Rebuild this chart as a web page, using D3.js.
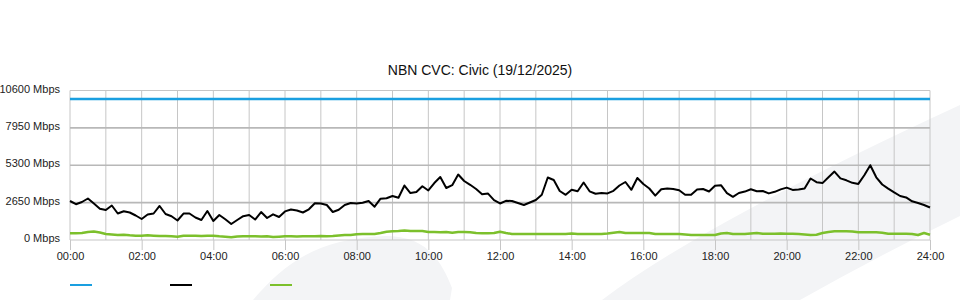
<!DOCTYPE html>
<html>
<head>
<meta charset="utf-8">
<script src="https://cdn.jsdelivr.net/npm/d3@7"></script>
<style>
  body { margin: 0; background: #fff; }
  svg { display: block; font-family: "Liberation Sans", Arial, sans-serif; }
</style>
</head>
<body>
<div class="canvas"></div>
<script>
const chartTitle = "NBN CVC: Civic (19/12/2025)";

// samples every 10 minutes from 00:00 to 24:00
const stepMinutes = 10;

const xTickLabels = ["00:00", "02:00", "04:00", "06:00", "08:00", "10:00", "12:00",
                     "14:00", "16:00", "18:00", "20:00", "22:00", "24:00"];
const yTickValues = [0, 2650, 5300, 7950, 10600];

// provisioned capacity (blue)
const capacityTimes = [0, 1440];
const capacityValues = [10000, 10000];

// traffic in Mbps (black)
const trafficValues = [
  2765, 2538, 2694, 2942, 2588, 2219, 2127, 2446, 1879, 2042,
  1950, 1737, 1489, 1808, 1879, 2411, 1843, 1687, 1383, 1872,
  1879, 1595, 1418, 2056, 1347, 1773, 1468, 1134, 1418, 1687,
  1773, 1453, 1985, 1560, 1822, 1631, 2028, 2162, 2092, 1950,
  2177, 2609, 2581, 2482, 1985, 2148, 2482, 2623, 2588, 2637,
  2765, 2361, 2928, 2964, 3120, 2992, 3864, 3332, 3403, 3814,
  3510, 4041, 4467, 3687, 3885, 4644, 4183, 3914, 3616, 3247,
  3290, 2822, 2588, 2779, 2765, 2623, 2482, 2659, 2836, 3205,
  4431, 4254, 3474, 3205, 3566, 3453, 4077, 3453, 3276, 3325,
  3304, 3488, 3864, 4112, 3559, 4396, 3970, 3651, 3148, 3602,
  3658, 3616, 3524, 3205, 3205, 3573, 3616, 3439, 3843, 3885,
  3318, 3063, 3332, 3432, 3595, 3460, 3474, 3304, 3417, 3588,
  3715, 3552, 3580, 3658, 4360, 4098, 4034, 4452, 4850, 4367,
  4233, 4055, 3977, 4594, 5303, 4445, 3935, 3644, 3375, 3120,
  3020, 2744, 2623, 2482, 2304
];

// second traffic series in Mbps (green)
const lowerValues = [
  475, 475, 496, 567, 603, 532, 425, 390, 355, 376,
  333, 305, 305, 333, 305, 284, 284, 262, 234, 305,
  305, 305, 284, 305, 305, 262, 234, 191, 248, 262,
  262, 262, 248, 262, 213, 234, 262, 262, 248, 262,
  262, 262, 284, 262, 284, 319, 355, 355, 404, 425,
  425, 425, 496, 588, 617, 638, 674, 638, 638, 638,
  567, 567, 546, 567, 518, 567, 567, 546, 496, 475,
  475, 496, 588, 496, 425, 425, 425, 425, 425, 425,
  425, 425, 425, 425, 461, 425, 425, 425, 425, 425,
  461, 518, 567, 496, 496, 496, 496, 496, 425, 425,
  425, 425, 425, 390, 355, 355, 355, 355, 355, 461,
  496, 425, 425, 425, 461, 496, 447, 447, 447, 461,
  447, 447, 425, 390, 355, 376, 496, 567, 617, 617,
  617, 603, 546, 546, 546, 546, 518, 447, 447, 447,
  447, 425, 355, 496, 376
];

const legendColors = ["#1a9fe0", "#000000", "#7cc02c"];

const width = 960;
const height = 300;
const margin = { top: 90.5, right: 30, bottom: 60, left: 70 };

const svg = d3.select(".canvas")
  .append("svg")
  .attr("width", width)
  .attr("height", height);

// faint background swooshes
const bg = svg.append("g").attr("fill", "#f3f4f6");
bg.append("path")
  .attr("d", "M253,300 C285,262 320,238 385,236 C420,236 438,252 452,288 L450,300 Z");
bg.append("path")
  .attr("d", "M602,300 Q700,225 960,105 L960,216 Q880,255 800,300 Z");

const x = d3.scaleLinear().domain([0, 1440]).range([margin.left, width - margin.right]);
const y = d3.scaleLinear().domain([0, 10600]).range([height - margin.bottom, margin.top]);

const grid = svg.append("g").attr("class", "grid");

// vertical grid every hour
grid.selectAll("line.v")
  .data(d3.range(0, 1441, 60))
  .enter().append("line")
    .attr("class", "v")
    .attr("x1", d => x(d)).attr("x2", d => x(d))
    .attr("y1", y(10600)).attr("y2", y(0))
    .attr("stroke", "#c6c6c6")
    .attr("stroke-width", 1);

// horizontal grid
grid.selectAll("line.h")
  .data(yTickValues)
  .enter().append("line")
    .attr("class", "h")
    .attr("x1", x(0)).attr("x2", x(1440))
    .attr("y1", d => y(d)).attr("y2", d => y(d))
    .attr("stroke", d => (d === 0 || d === 10600) ? "#c6c6c6" : "#b8b8b8")
    .attr("stroke-width", d => (d === 0 || d === 10600) ? 1 : 1.6);

// axes
const xAxis = d3.axisBottom(x)
  .tickValues(xTickLabels.map((d, i) => i * 120))
  .tickFormat((d, i) => xTickLabels[i])
  .tickSize(10)
  .tickSizeOuter(0);

const xAxisGroup = svg.append("g")
  .attr("transform", `translate(0,${y(0)})`)
  .call(xAxis);
xAxisGroup.select(".domain").remove();
xAxisGroup.selectAll("line").attr("stroke", "#c6c6c6");
xAxisGroup.selectAll("text")
  .attr("fill", "#222")
  .attr("font-size", 11)
  .attr("font-family", "\"Liberation Sans\", Arial, sans-serif")
  .attr("dy", "0.6em");

const yAxis = d3.axisLeft(y)
  .tickValues(yTickValues)
  .tickFormat(d => d + " Mbps")
  .tickSize(0);

const yAxisGroup = svg.append("g")
  .attr("transform", `translate(${margin.left},0)`)
  .call(yAxis);
yAxisGroup.select(".domain").remove();
yAxisGroup.selectAll("text")
  .attr("fill", "#222")
  .attr("font-size", 11)
  .attr("font-family", "\"Liberation Sans\", Arial, sans-serif")
  .attr("x", -10)
  .attr("dy", "0.15em");

// title
svg.append("text")
  .attr("x", width / 2)
  .attr("y", 75)
  .attr("text-anchor", "middle")
  .attr("font-size", 14)
  .attr("fill", "#111")
  .text(chartTitle);

// series lines
const line = d3.line()
  .x((d, i) => x(i * stepMinutes))
  .y(d => y(d));

svg.append("path")
  .datum(capacityValues)
  .attr("fill", "none")
  .attr("stroke", legendColors[0])
  .attr("stroke-width", 2.5)
  .attr("d", d3.line().x((d, i) => x(capacityTimes[i])).y(d => y(d)));

svg.append("path")
  .datum(lowerValues)
  .attr("fill", "none")
  .attr("stroke", legendColors[2])
  .attr("stroke-width", 2.5)
  .attr("stroke-linejoin", "round")
  .attr("d", line);

svg.append("path")
  .datum(trafficValues)
  .attr("fill", "none")
  .attr("stroke", legendColors[1])
  .attr("stroke-width", 2)
  .attr("stroke-linejoin", "round")
  .attr("d", line);

// legend keys (no labels)
const legend = svg.append("g").attr("transform", "translate(70,285)");
legend.selectAll("line")
  .data(legendColors)
  .enter().append("line")
    .attr("x1", (d, i) => i * 100)
    .attr("x2", (d, i) => i * 100 + 22)
    .attr("y1", 0).attr("y2", 0)
    .attr("stroke", d => d)
    .attr("stroke-width", 2);
</script>
</body>
</html>
